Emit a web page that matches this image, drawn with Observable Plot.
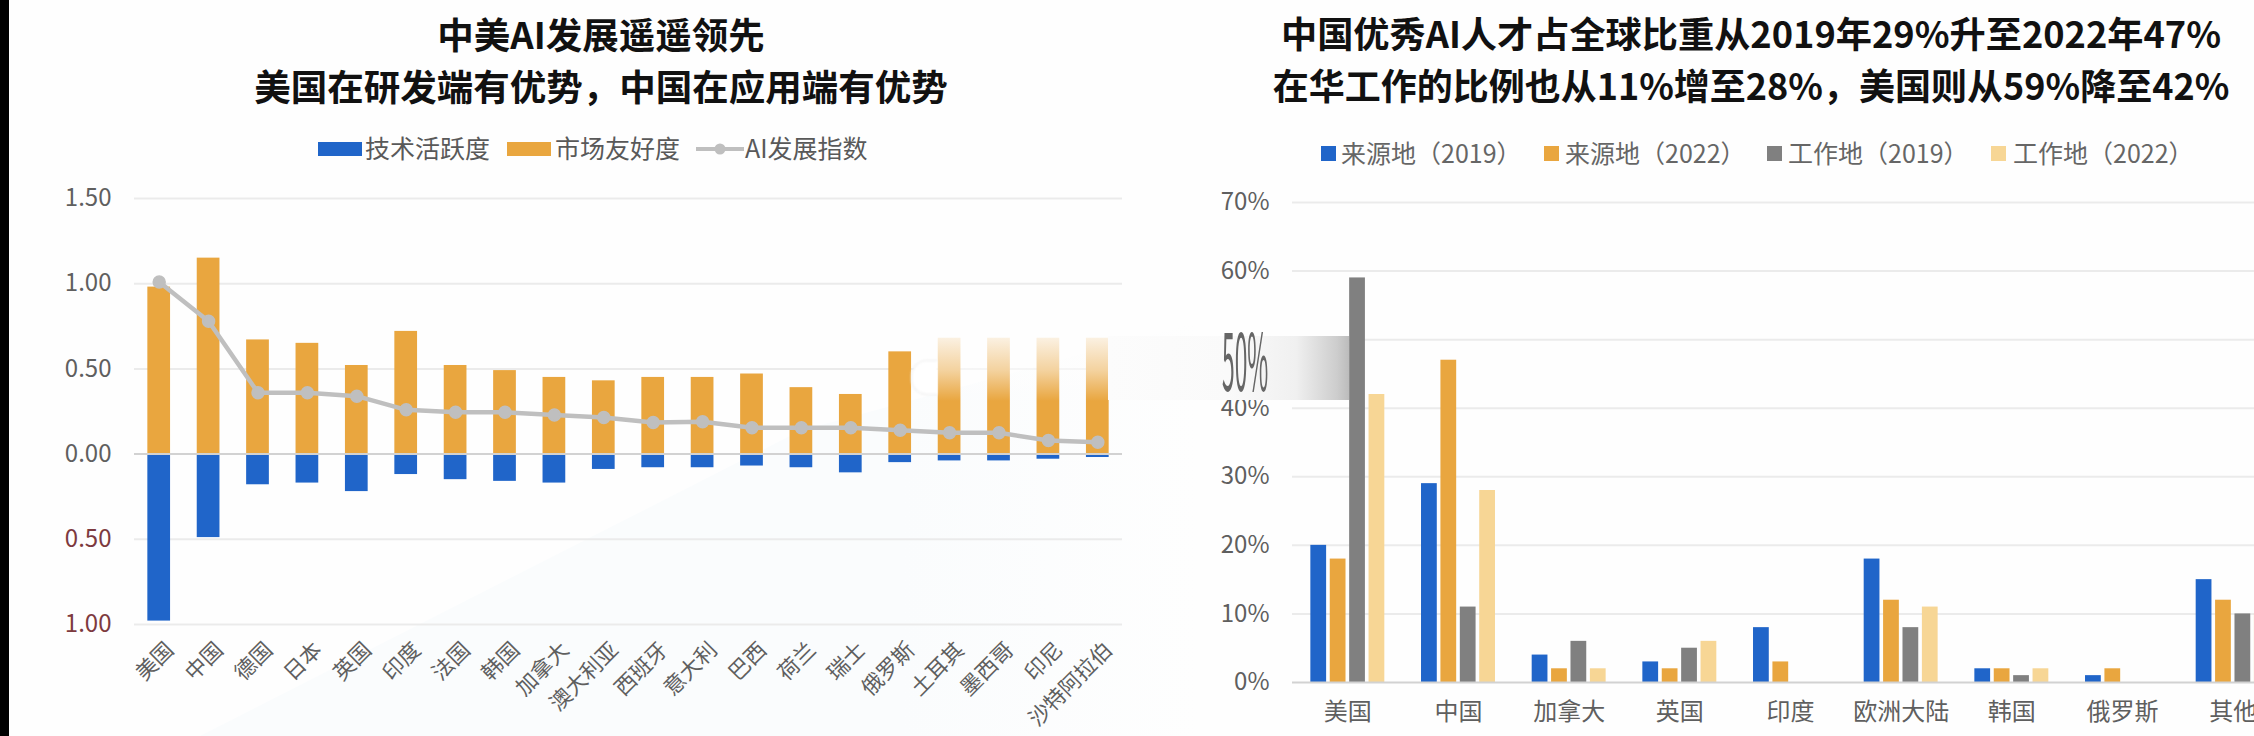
<!DOCTYPE html>
<html lang="zh">
<head>
<meta charset="utf-8">
<script src="https://cdn.jsdelivr.net/npm/d3@7"></script>
<script src="https://cdn.jsdelivr.net/npm/@observablehq/plot@0.6"></script>
<style>
  html,body{margin:0;padding:0;width:2254px;height:736px;overflow:hidden;background:#fefefe;font-family:"Noto Sans CJK SC","Noto Sans",sans-serif;}
  #stage{position:relative;width:2254px;height:736px;overflow:hidden;}
  .abs{position:absolute;}
  .title{font-size:36.5px;font-weight:700;color:#111;white-space:nowrap;transform:translateX(-50%);line-height:52px;text-align:center;}
  .lg{font-size:25px;color:#595959;white-space:nowrap;line-height:30px;}
  .lg2{font-size:25px;color:#666;white-space:nowrap;line-height:30px;}
  svg text{font-family:"Noto Sans CJK SC","Noto Sans",sans-serif;}
</style>
</head>
<body>
<div id="stage">
  <div class="abs" style="left:200px;top:300px;width:1000px;height:436px;background:linear-gradient(to right,#fafcfd 0%,#fafcfd 70%,#fefefe 100%);clip-path:polygon(0 100%,60% 30%,100% 5%,100% 100%);"></div>
  <div class="abs" style="left:0;top:0;width:9px;height:736px;background:#000;z-index:9"></div>
  <div id="left" class="abs" style="left:0;top:170px"></div>
  <div id="right" class="abs" style="left:1127px;top:170px"></div>
  <div id="over"></div>
</div>
<script>
// ---------- left chart data ----------
const countriesA = ["美国","中国","德国","日本","英国","印度","法国","韩国","加拿大","澳大利亚","西班牙","意大利","巴西","荷兰","瑞士","俄罗斯","土耳其","墨西哥","印尼","沙特阿拉伯"];
const techActivity = [0.98,0.49,0.18,0.17,0.22,0.12,0.15,0.16,0.17,0.09,0.08,0.08,0.07,0.08,0.11,0.05,0.04,0.04,0.03,0.02];
const marketFriendly = [0.98,1.15,0.67,0.65,0.52,0.72,0.52,0.49,0.45,0.43,0.45,0.45,0.47,0.39,0.35,0.60,0.68,0.68,0.68,0.68];
const aiIndex = [1.01,0.78,0.36,0.36,0.34,0.26,0.245,0.245,0.23,0.215,0.185,0.19,0.155,0.155,0.155,0.14,0.125,0.125,0.08,0.07];
const ticksPos = [0,0.5,1,1.5];
const ticksNeg = [-0.5,-1];
const legendA = ["技术活跃度","市场友好度","AI发展指数"];
const titleA = ["中美AI发展遥遥领先","美国在研发端有优势，中国在应用端有优势"];

// ---------- right chart data ----------
const countriesB = ["美国","中国","加拿大","英国","印度","欧洲大陆","韩国","俄罗斯","其他"];
const source2019 = [20,29,4,3,8,18,2,1,15];
const source2022 = [18,47,2,2,3,12,2,2,12];
const work2019 = [59,11,6,5,0,8,1,0,10];
const work2022 = [42,28,2,6,0,11,2,0,10];
const ticksB = [0,10,20,30,40,60,70];
const legendB = ["来源地（2019）","来源地（2022）","工作地（2019）","工作地（2022）"];
const titleB = ["中国优秀AI人才占全球比重从2019年29%升至2022年47%","在华工作的比例也从11%增至28%，美国则从59%降至42%"];

const BLUE="#2065c9", ORANGE="#e9a63f", GRAY="#808080", PALE="#f7d695", LINE="#bfbfbf", GRID="#ebebeb", ZERO="#d2d2d2", TXT="#5f5f5f", RED="#7d3a3f";

const rowsA = countriesA.map((c,i)=>({c,t:techActivity[i],m:marketFriendly[i],a:aiIndex[i]}));
const left = Plot.plot({
  width:1127,height:566,marginLeft:134,marginRight:5,marginTop:28,marginBottom:112,
  style:{background:"transparent"},
  x:{domain:countriesA,paddingInner:0.54,paddingOuter:0.27,round:false,label:null},
  y:{domain:[-1,1.5],label:null},
  marks:[
    Plot.gridY([...ticksPos,...ticksNeg],{stroke:GRID,strokeOpacity:1,strokeWidth:2}),
    Plot.barY(rowsA,{x:"c",y1:0,y2:"m",fill:ORANGE}),
    Plot.barY(rowsA,{x:"c",y1:0,y2:d=>-d.t,fill:BLUE}),
    Plot.ruleY([0],{stroke:ZERO,strokeWidth:2}),
    Plot.line(rowsA,{x:"c",y:"a",stroke:LINE,strokeWidth:4.5}),
    Plot.dot(rowsA,{x:"c",y:"a",r:6,fill:LINE,stroke:LINE}),
    Plot.axisY(ticksPos,{tickSize:0,tickPadding:23,fontSize:24,fill:TXT,tickFormat:d3.format(".2f"),label:null}),
    Plot.axisY(ticksNeg,{tickSize:0,tickPadding:23,fontSize:24,fill:RED,tickFormat:d=>d3.format(".2f")(Math.abs(d)),label:null}),
    Plot.axisX({tickSize:0,tickRotate:-45,tickPadding:10,fontSize:21.5,fill:TXT,dx:11,dy:12,label:null})
  ]
});
document.getElementById("left").append(left);

const rowsB = countriesB.map((c,i)=>({c,a:source2019[i],b:source2022[i],g:work2019[i],p:work2022[i]}));
const stepB = 19.4, wB = 15.8, bandB = 110.7, outerB = 18.35;
const barB = (k,i,fill)=>Plot.barY(rowsB.filter(d=>d[k]>0),{x:"c",y:k,fill,insetLeft:outerB+i*stepB,insetRight:bandB-(outerB+i*stepB)-wB});
const right = Plot.plot({
  width:1127,height:566,marginLeft:165,marginRight:0,marginTop:32,marginBottom:54,
  style:{background:"transparent"},
  x:{domain:countriesB,range:[165,1161],padding:0,round:false,label:null},
  y:{domain:[0,70],label:null},
  marks:[
    Plot.gridY([10,20,30,40,50,60,70],{stroke:GRID,strokeOpacity:1,strokeWidth:2}),
    barB("a",0,BLUE),barB("b",1,ORANGE),barB("g",2,GRAY),barB("p",3,PALE),
    Plot.ruleY([0],{stroke:ZERO,strokeWidth:2}),
    Plot.axisY(ticksB,{tickSize:0,tickPadding:23,fontSize:24,fill:TXT,tickFormat:d=>d+"%",label:null}),
    Plot.axisX({tickSize:0,tickPadding:20,fontSize:24,fill:TXT,label:null})
  ]
});
document.getElementById("right").append(right);

// ---------- titles, legends, photographic artefacts ----------
const stage=document.getElementById("stage");
function add(html){stage.insertAdjacentHTML("beforeend",html);}
titleA.forEach((t,i)=>add(`<div class="abs title" style="left:601px;top:${8+52*i}px">${t}</div>`));
titleB.forEach((t,i)=>add(`<div class="abs title" style="left:1751px;top:${6+52*i}px;font-size:${i?36:36.2}px">${t}</div>`));

const swA=[[318,BLUE],[507,ORANGE]];
swA.forEach(([x,c])=>add(`<div class="abs" style="left:${x}px;top:142px;width:44px;height:14px;background:${c}"></div>`));
add(`<svg class="abs" style="left:696px;top:139px" width="48" height="20"><line x1="0" x2="48" y1="10" y2="10" stroke="${LINE}" stroke-width="4"/><circle cx="24" cy="10" r="5.5" fill="${LINE}"/></svg>`);
[[365,0],[555,1],[745,2]].forEach(([x,i])=>add(`<div class="abs lg" style="left:${x}px;top:132px">${legendA[i]}</div>`));

[[1321,1341,BLUE],[1544,1565,ORANGE],[1767,1788,GRAY],[1991,2013,PALE]].forEach(([s,t,c],i)=>{
  add(`<div class="abs" style="left:${s}px;top:146px;width:15px;height:15px;background:${c}"></div>`);
  add(`<div class="abs lg2" style="left:${t}px;top:137px">${legendB[i]}</div>`);
});

// blurred smear across the middle of the photo
add(`<div class="abs" style="left:932px;top:333px;width:176px;height:68px;background:linear-gradient(to bottom,rgba(254,254,254,.9),rgba(254,254,254,.5) 55%,rgba(254,254,254,0));"></div>`);
add(`<div class="abs" style="left:1108px;top:336px;width:241px;height:64px;background:linear-gradient(to right,rgba(252,252,252,1),rgba(250,250,250,1) 50%,rgba(240,240,240,1) 78%,rgba(205,205,205,1) 95%,rgba(188,188,188,1));"></div>`);
add(`<div class="abs" style="left:911px;top:360px;width:25px;height:33px;background:#fff;border:1px solid #ececec;border-right:none;border-radius:16px 0 0 16px;filter:blur(1px)"></div>`);
add(`<div class="abs" style="left:1222px;top:349px;font-size:24px;line-height:18px;color:#666;transform:scale(.95,3.3);transform-origin:left center">50%</div>`);
</script>
</body>
</html>
